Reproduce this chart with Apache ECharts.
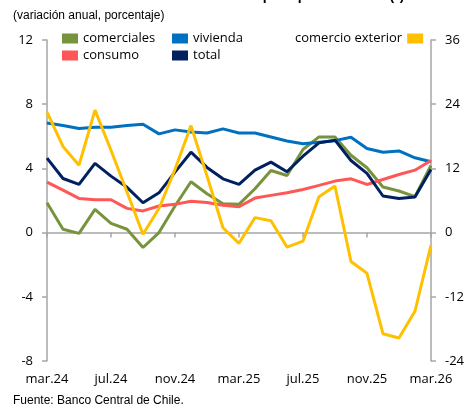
<!DOCTYPE html>
<html><head><meta charset="utf-8">
<script src="https://cdn.jsdelivr.net/npm/echarts@6/dist/echarts.min.js"></script>
<style>html,body{margin:0;padding:0;background:#fff}#c{width:467px;height:409px}</style>
</head><body><div id="c"></div>
<script>
const months = ['mar.24','abr.24','may.24','jun.24','jul.24','ago.24','sep.24','oct.24','nov.24','dic.24','ene.25','feb.25','mar.25','abr.25','may.25','jun.25','jul.25','ago.25','sep.25','oct.25','nov.25','dic.25','ene.26','feb.26','mar.26'];
const comerciales = [1.86,0.21,-0.05,1.45,0.58,0.21,-0.93,0.0,1.66,3.17,2.42,1.8,1.76,2.73,3.87,3.56,5.18,5.96,5.96,4.82,4.04,2.84,2.59,2.24,4.18];
const vivienda = [6.83,6.67,6.48,6.56,6.56,6.67,6.75,6.15,6.4,6.27,6.21,6.46,6.21,6.21,5.96,5.71,5.53,5.63,5.73,5.94,5.24,5.01,5.09,4.66,4.41];
const consumo = [3.15,2.65,2.13,2.05,2.05,1.51,1.35,1.66,1.76,1.95,1.88,1.7,1.61,2.15,2.32,2.48,2.69,2.94,3.21,3.35,3.0,3.31,3.62,3.89,4.49];
const total = [4.64,3.37,3.0,4.31,3.52,2.82,1.86,2.48,3.77,5.01,4.06,3.35,3.0,3.89,4.39,3.79,4.76,5.59,5.76,4.49,3.69,2.28,2.13,2.22,3.93];
const comercioExterior = [22.5,16.1,12.6,22.9,15.4,7.6,-0.3,4.5,11.8,20.0,10.6,0.9,-2.0,2.8,2.2,-2.7,-1.6,6.7,8.7,-5.4,-7.6,-18.9,-19.7,-14.7,-2.4];
const leftTicks = {min:-8, max:12, interval:4};
const rightTicks = {min:-24, max:36, interval:12};

const FONT = 'Open Sans';
const axisGrey = '#A6A6A6';
const chart = echarts.init(document.getElementById('c'));
function line(name, data, color, yIdx) {
  return {name, type:'line', data, yAxisIndex:yIdx, xAxisIndex:0, showSymbol:false, symbol:'none',
    lineStyle:{color, width:3}, itemStyle:{color}, animation:false};
}
const legendBase = {orient:'vertical', top:27, itemWidth:16, itemHeight:10, itemGap:4, icon:'rect',
  textStyle:{fontFamily:FONT, fontSize:13, color:'#000'}, selectedMode:false};
chart.setOption({
  animation:false,
  grid:{left:47, right:33, top:40, bottom:48},
  graphic:[
    {type:'text', left:13, top:-11, style:{text:'Crecimiento real de las colocaciones por tipo de cartera (*)', font:'bold 14px "Liberation Sans"', fill:'#000'}},
    {type:'text', left:13, top:10, style:{text:'(variación anual, porcentaje)', font:'12px "Liberation Sans"', fill:'#000'}},
    {type:'text', left:13, top:395, style:{text:'Fuente: Banco Central de Chile.', font:'12px "Liberation Sans"', fill:'#000'}}
  ],
  legend:[
    Object.assign({}, legendBase, {left:57, data:['comerciales','consumo']}),
    Object.assign({}, legendBase, {left:167, data:['vivienda','total']}),
    Object.assign({}, legendBase, {left:290, align:'right', data:['comercio exterior']})
  ],
  xAxis:[
    {type:'category', data:months, boundaryGap:false, position:'bottom',
      axisLine:{onZero:true, lineStyle:{color:axisGrey, width:1.5}},
      axisTick:{show:true, interval:3, length:5, lineStyle:{color:axisGrey, width:1.5}},
      axisLabel:{show:false}, splitLine:{show:false}},
    {type:'category', data:months, boundaryGap:false, position:'bottom',
      axisLine:{show:false, onZero:false}, axisTick:{show:false},
      axisLabel:{interval:3, margin:12, fontFamily:FONT, fontSize:13, color:'#000'}, splitLine:{show:false}}
  ],
  yAxis:[
    {type:'value', position:'left', min:leftTicks.min, max:leftTicks.max, interval:leftTicks.interval,
      axisLine:{show:true, onZero:false, lineStyle:{color:axisGrey, width:1.5}},
      axisTick:{show:true, length:5, lineStyle:{color:axisGrey, width:1.5}},
      axisLabel:{margin:14, fontFamily:FONT, fontSize:13, color:'#000'}, splitLine:{show:false}},
    {type:'value', position:'right', min:rightTicks.min, max:rightTicks.max, interval:rightTicks.interval,
      axisLine:{show:true, onZero:false, lineStyle:{color:axisGrey, width:1.5}},
      axisTick:{show:true, length:5, lineStyle:{color:axisGrey, width:1.5}},
      axisLabel:{margin:14, fontFamily:FONT, fontSize:13, color:'#000'}, splitLine:{show:false}}
  ],
  series:[
    line('comerciales', comerciales, '#77933C', 0),
    line('vivienda', vivienda, '#0070C0', 0),
    line('consumo', consumo, '#FF5757', 0),
    line('total', total, '#002060', 0),
    line('comercio exterior', comercioExterior, '#FFC000', 1)
  ]
});
</script></body></html>
